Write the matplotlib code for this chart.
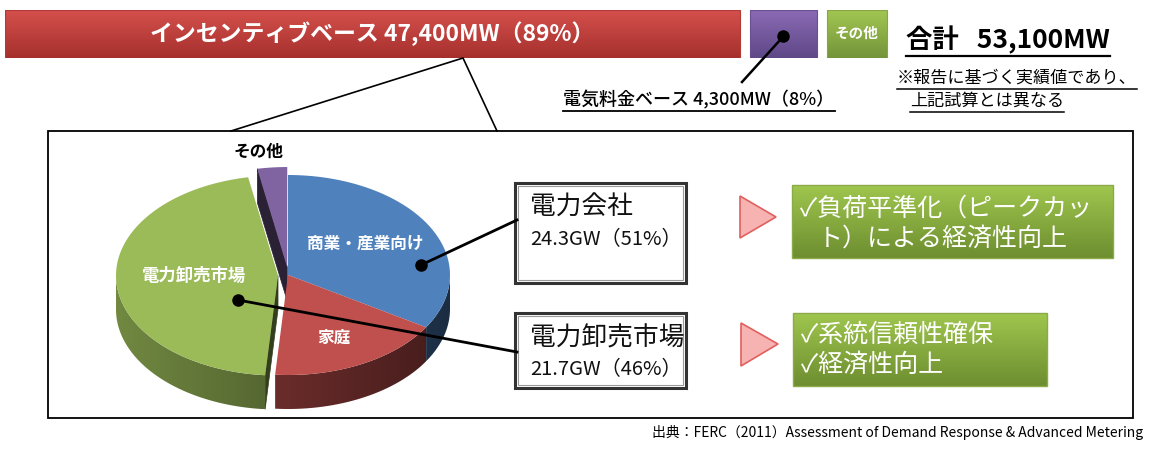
import matplotlib
matplotlib.use('Agg')
import matplotlib.pyplot as plt
import numpy as np
import matplotlib.colors as mcolors
from matplotlib.patches import Rectangle, Polygon
from matplotlib.collections import PolyCollection

FONT = ['Noto Sans CJK JP', 'DejaVu Sans']
plt.rcParams['font.family'] = FONT

# ---------------- data ----------------
bar_names = ['インセンティブベース', '電気料金ベース', 'その他']
bar_mw = [47400, 4300, 1400]
bar_pct = [89, 8, 3]
total_mw = 53100

pie_labels = ['商業・産業向け', '家庭', '電力卸売市場', 'その他']
pie_gw = [16.0, 8.3, 21.7, 1.4]
pie_colors = ['#4f81bd', '#c0504d', '#9bbb59', '#8064a2']

group_names = ['電力会社', '電力卸売市場']
group_gw = [24.3, 21.7]
group_pct = [51, 46]
benefit_lines = [['✓負荷平準化（ピークカッ', 'ト）による経済性向上'],
                 ['✓系統信頼性確保', '✓経済性向上']]
note_lines = ['※報告に基づく実績値であり、', '上記試算とは異なる']
source_text = '出典：FERC（2011）Assessment of Demand Response & Advanced Metering'

# ---------------- figure ----------------
W, H = 1150, 455
fig = plt.figure(figsize=(W / 100, H / 100), dpi=100)
ax = fig.add_axes([0, 0, 1, 1])
ax.set_zorder(2)
ax.patch.set_visible(False)
ax.set_xlim(0, W)
ax.set_ylim(H, 0)
ax.axis('off')


def grad_img(c_top, c_bot, n=64):
    a = np.array(mcolors.to_rgb(c_top))
    b = np.array(mcolors.to_rgb(c_bot))
    t = np.linspace(0, 1, n)[:, None]
    return (a * (1 - t) + b * t)[:, None, :]


# ---------------- top stacked bar ----------------
bar_x0, bar_x1_red = 5, 740
mw_per_px = bar_mw[0] / (bar_x1_red - bar_x0)
bar_top, bar_bot = 10, 58
ax_bar = fig.add_axes([bar_x0 / W, 1 - bar_bot / H, 885 / W, (bar_bot - bar_top) / H])
ax_bar.axis('off')
gap = 10 * mw_per_px
min_w = 60 * mw_per_px
lefts = [0, bar_mw[0] + gap]
lefts.append(lefts[1] + bar_mw[1] + gap)
widths = [bar_mw[0], bar_mw[1], max(bar_mw[2], min_w)]
grads = [('#d4504c', '#a6302d'), ('#8a6ab4', '#5f4888'), ('#a2c652', '#74943a')]
edges = ['#b03a36', '#6a5090', '#86a646']
bars = ax_bar.barh([0, 0, 0], widths, left=lefts, height=1.0, color='none')
for p, (ct, cb), ec in zip(bars.patches, grads, edges):
    x, w = p.get_x(), p.get_width()
    im = ax_bar.imshow(grad_img(ct, cb), extent=[x, x + w, -0.5, 0.5], aspect='auto', zorder=1)
    im.set_clip_path(p)
    p.set_edgecolor(ec)
    p.set_linewidth(0.8)
    p.set_zorder(2)
ax_bar.set_xlim(0, 885 * mw_per_px)
ax_bar.set_ylim(-0.5, 0.5)

ax_bar.text(lefts[0] + widths[0] / 2, 0,
            f'{bar_names[0]} {bar_mw[0]:,}MW（{bar_pct[0]}%）',
            ha='center', va='center', color='white', fontsize=16.5, fontweight='bold', zorder=3)
ax_bar.text(lefts[2] + widths[2] / 2, 0.02, bar_names[2], ha='center', va='center',
            color='white', fontsize=10.5, fontweight='bold', zorder=3)


def to_main(axx, x, y):
    d = axx.transData.transform((x, y))
    return ax.transData.inverted().transform(d)


# purple bar marker + leader
px, py = to_main(ax_bar, lefts[1] + widths[1] / 2, -0.05)
ax.plot([px, 742], [py, 82], color='black', lw=1.8, zorder=5)
ax.plot([px], [py], 'o', color='black', ms=8, zorder=6)

fig.canvas.draw()
renderer = fig.canvas.get_renderer()


def underline(t, lw=1.3, pad=1.5):
    bb = t.get_window_extent(renderer)
    inv = ax.transData.inverted()
    (x0, yb), (x1, _) = inv.transform([(bb.x0, bb.y0), (bb.x1, bb.y1)])
    ax.plot([x0, x1], [yb + pad, yb + pad], color='black', lw=lw, zorder=5)


t_price = ax.text(699, 100, f'{bar_names[1]} {bar_mw[1]:,}MW（{bar_pct[1]}%）',
                  ha='center', va='center', fontsize=13, fontweight='medium', color='black')
underline(t_price)
t_total = ax.text(906, 40, f'合計   {total_mw:,}MW', ha='left', va='center',
                  fontsize=19, fontweight='bold', color='black')
underline(t_total, lw=1.6)
t_n1 = ax.text(897, 78, note_lines[0], ha='left', va='center', fontsize=12.3, color='black')
underline(t_n1, lw=1.1)
t_n2 = ax.text(910, 101, note_lines[1], ha='left', va='center', fontsize=12.3, color='black')
underline(t_n2, lw=1.1)

# connector lines from red bar to frame
ax.plot([231, 463, 497], [131, 58, 131], color='black', lw=1.2, zorder=4)

# big frame
ax.add_patch(Rectangle((48, 131), 1085, 287, fill=False, edgecolor='black', lw=1.3, zorder=4))

# ---------------- 3D pie ----------------
cx, cy, ra, rb, depth = 288, 275, 162, 100, 34
fr = np.array(pie_gw) / np.sum(pie_gw)
ang = 90 - 360 * np.concatenate([[0], np.cumsum(fr)])
explode_px = [0, 0, 10, 8]


def rim(t, ox, oy, r=1.0):
    tr = np.radians(t)
    return cx + ox + r * ra * np.cos(tr), cy + oy - r * rb * np.sin(tr)


def shade(c, f):
    return tuple(np.clip(np.array(mcolors.to_rgb(c)) * f, 0, 1))


faces, face_cols = [], []
offsets = []
wall_polys = []
tops = []
for i in range(len(pie_gw)):
    t0, t1 = ang[i], ang[i + 1]
    mid = (t0 + t1) / 2
    e = explode_px[i]
    ox, oy = e * np.cos(np.radians(mid)), -e * np.sin(np.radians(mid))
    offsets.append((ox, oy, mid))
    col = pie_colors[i]
    if e > 0:
        # normal (math y) of edge t0 is cos(t0), of edge t1 is -cos(t1); visible if < 0
        for te, ny in ((t0, np.cos(np.radians(te0 := t0))), (t1, -np.cos(np.radians(t1)))):
            if ny < -1e-6:
                c0 = (cx + ox, cy + oy)
                rx, ry = rim(te, ox, oy)
                faces.append([c0, (rx, ry), (rx, ry + depth), (c0[0], c0[1] + depth)])
                face_cols.append(shade(col, 0.33))
    ts = np.linspace(t0, t1, max(int(abs(t0 - t1)) * 2, 2) + 1)
    front = ts[np.sin(np.radians(ts)) <= 1e-9]
    if len(front) >= 2:
        xs, ys = rim(front, ox, oy)
        poly = np.column_stack([np.concatenate([xs, xs[::-1]]),
                                np.concatenate([ys, ys[::-1] + depth])])
        wall_polys.append((poly, col, ox))
    xs, ys = rim(ts, ox, oy)
    tops.append((np.concatenate([[cx + ox], xs]), np.concatenate([[cy + oy], ys]), col))

ax.add_collection(PolyCollection(faces, facecolors=face_cols, edgecolors=face_cols, lw=0.5, zorder=3))
for poly, col, ox in wall_polys:
    x0, x1 = poly[:, 0].min(), poly[:, 0].max()
    y0, y1 = poly[:, 1].min(), poly[:, 1].max()
    xx = np.linspace(x0, x1, 200)
    cosv = np.clip((xx - cx - ox) / ra, -1, 1)
    f = 0.35 + 0.38 * (1 - cosv) / 2
    img = np.array(mcolors.to_rgb(col))[None, None, :] * f[None, :, None]
    patch = Polygon(poly, closed=True, facecolor='none', edgecolor='none')
    ax.add_patch(patch)
    im = ax.imshow(img, extent=[x0, x1, y1, y0], aspect='auto', zorder=3.1, interpolation='bilinear')
    im.set_clip_path(patch)
for xs, ys, col in tops:
    ax.fill(xs, ys, color=col, zorder=3.2, lw=0)

label_r = [0.55, 0.62, 0.52, None]
label_dy = [-4, 7, -2, 0]
for i, lab in enumerate(pie_labels):
    ox, oy, mid = offsets[i]
    if label_r[i] is None:
        continue
    lx, ly = rim(mid, ox, oy, label_r[i])
    ax.text(lx, ly + label_dy[i], lab, ha='center', va='center', color='white',
            fontsize=12 if i != 2 else 12.5, fontweight='bold', zorder=4)
ax.text(258, 152, pie_labels[3], ha='center', va='center', color='black',
        fontsize=12, fontweight='bold', zorder=4)

# leader dots/lines from pie to boxes
ax.plot([421, 517], [265, 220], color='black', lw=2, zorder=5)
ax.plot([238, 517], [300, 352], color='black', lw=2, zorder=5)
ax.plot([421, 238], [265, 300], 'o', color='black', ms=8, ls='none', zorder=6)

# ---------------- group boxes ----------------
box_y = [(183, 283), (313, 388)]
for i, (y0, y1) in enumerate(box_y):
    ax.add_patch(Rectangle((515, y0), 171, y1 - y0, facecolor='white', edgecolor='#333333', lw=2.2, zorder=4.5))
    ax.add_patch(Rectangle((518, y0 + 3), 165, y1 - y0 - 6, fill=False, edgecolor='#9a9a9a', lw=0.8, zorder=4.6))
    ax.text(530, y0 + 25, group_names[i], ha='left', va='center', fontsize=18.5, color='#111111', zorder=5)
    ax.text(530, y0 + 57, f'{group_gw[i]}GW（{group_pct[i]}%）', ha='left', va='center',
            fontsize=14.5, color='#111111', zorder=5)

# pink triangles
tri = [((740, 196), (740, 238), (776, 217)), ((741, 323), (741, 366), (778, 344))]
for t in tri:
    ax.add_patch(Polygon(t, closed=True, facecolor='#f7b2b2', edgecolor='#e0605e', lw=1.2, zorder=4))

# green benefit boxes
gboxes = [(792, 185, 1113, 258), (793, 313, 1047, 386)]
for i, (x0, y0, x1, y1) in enumerate(gboxes):
    r = Rectangle((x0, y0), x1 - x0, y1 - y0, facecolor='none', edgecolor='#8aab48', lw=1, zorder=4.2)
    ax.add_patch(r)
    im = ax.imshow(grad_img('#9fc64e', '#6e8e30'), extent=[x0, x1, y1, y0], aspect='auto', zorder=4)
    im.set_clip_path(r)
lines0 = benefit_lines[0]
ax.text(800, 209, lines0[0], ha='left', va='center', color='white', fontsize=18, zorder=5)
ax.text(818, 239, lines0[1], ha='left', va='center', color='white', fontsize=18, zorder=5)
lines1 = benefit_lines[1]
ax.text(801, 335, lines1[0], ha='left', va='center', color='white', fontsize=18, zorder=5)
ax.text(801, 365, lines1[1], ha='left', va='center', color='white', fontsize=18, zorder=5)

# source
ax.text(1143, 432, source_text, ha='right', va='center', fontsize=10, color='black')

ax.set_xlim(0, W)
ax.set_ylim(H, 0)
fig.savefig('out.png', dpi=100)
